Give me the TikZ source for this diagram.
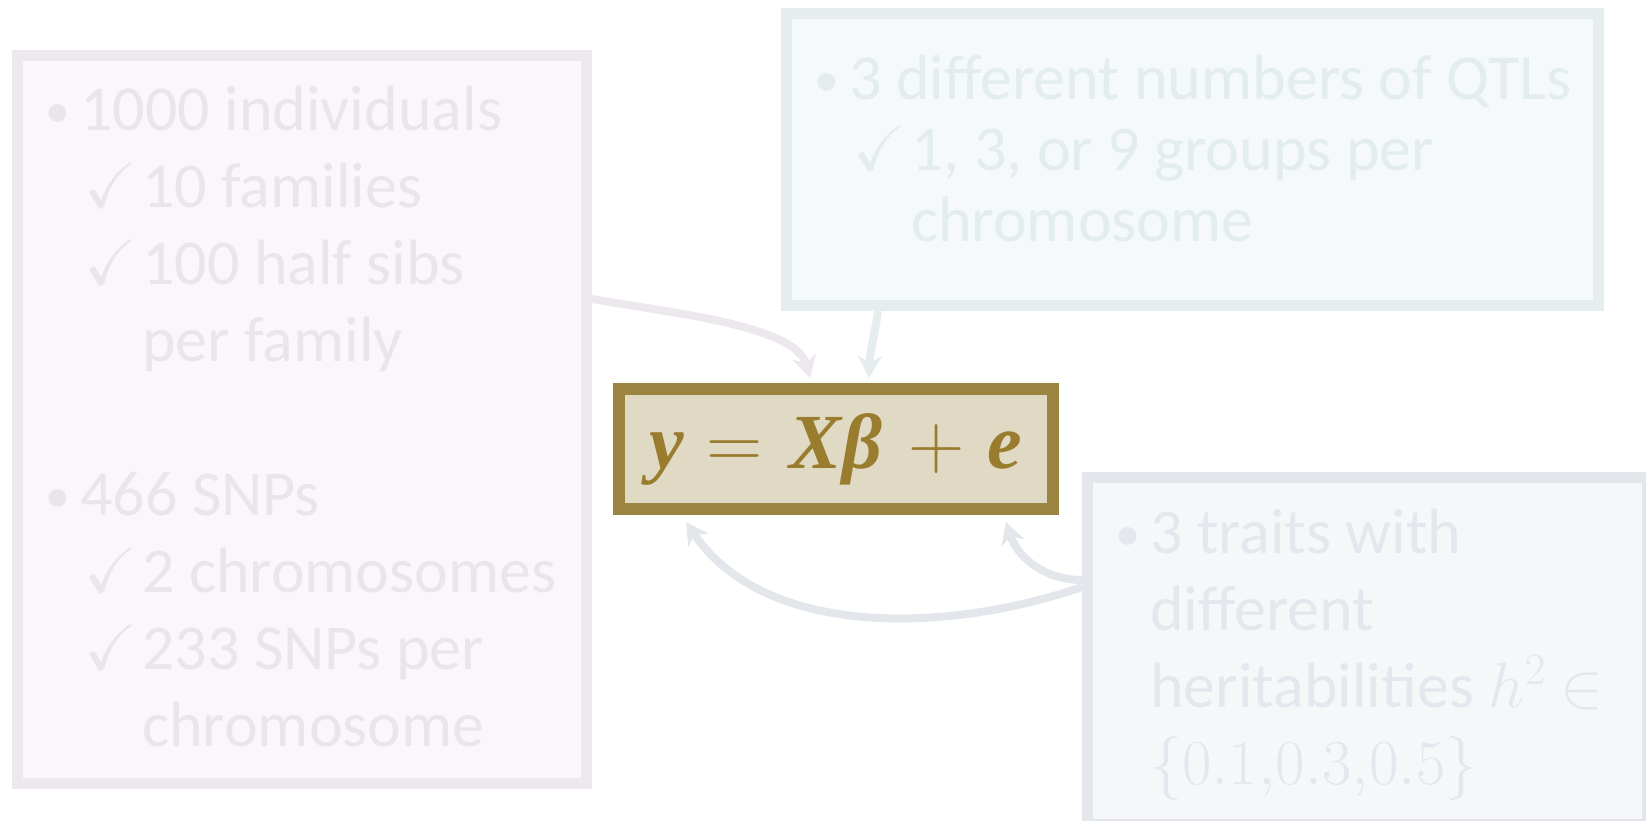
\RequirePackage{fix-cm}
\documentclass[tikz,border=0pt]{standalone}
\usepackage{amsmath,amssymb}
\usepackage{fontspec}
\setmainfont{Carlito}
\newfontfamily\eqfont{Liberation Serif}
\usetikzlibrary{arrows.meta,calc}
\definecolor{popline}{HTML}{EDE7EE}
\definecolor{popfill}{HTML}{F9F7FA}
\definecolor{poptext}{HTML}{EBE4EC}
\definecolor{qtlline}{HTML}{E5EDEE}
\definecolor{qtlfill}{HTML}{F5F9FA}
\definecolor{qtltext}{HTML}{E3ECEE}
\definecolor{hline}{HTML}{E3E7EC}
\definecolor{hfill}{HTML}{F6F7F9}
\definecolor{htext}{HTML}{E3E8EE}
\definecolor{modelline}{HTML}{9A8440}
\definecolor{modelfill}{HTML}{E0DAC4}
\definecolor{modeltext}{HTML}{9A7C2E}
\newcommand{\itm}[1]{\makebox[42pt][l]{\hspace*{7pt}\raisebox{3pt}{\fontsize{50}{50}\selectfont\textbullet}}#1}
\newcommand{\chk}[1]{\hspace*{46pt}\makebox[58pt][l]{$\checkmark$}#1}
\newcommand{\cnt}[2][104pt]{\hspace*{#1}#2}
\newcommand{\vb}[1]{{\eqfont\bfseries\itshape #1}}

\begin{document}
\begin{tikzpicture}[x=1pt,y=1pt, box/.style={draw,line width=11pt,inner sep=0pt}, txt/.style={anchor=base west,align=left,inner sep=0pt,font=\fontsize{64}{77}\selectfont}, link/.style={line width=8pt,-{Stealth[length=22pt,width=24pt,inset=7pt]}}]
\useasboundingbox (0,0) rectangle (1646,821);
\clip (0,0) rectangle (1646,821);
\node[box,draw=popline,fill=popfill,minimum width=569,minimum height=728] (pop) at (302,401.5) {};
\node[box,draw=qtlline,fill=qtlfill,minimum width=812,minimum height=292] (qtl) at (1192.5,661.5) {};
\node[box,draw=hline,fill=hfill,minimum width=560,minimum height=347] (herit) at (1367.5,170) {};
\node[box,draw=modelline,fill=modelfill,line width=12pt,minimum width=434,minimum height=120,text=modeltext,font=\fontsize{78}{84}\selectfont] (model) at (836,372) {\raisebox{-3pt}{\vb{y}${}={}$\kern6pt\vb{X\kern1ptβ}\kern8pt${}+{}$\kern6pt\vb{e}}};
\node[txt,text=poptext] (poptxt) at ($(pop.north west)+(26,-697)$) {\itm{1000 individuals}\\ \chk{10 families}\\ \chk{100 half sibs}\\ \cnt{per family}\\[77pt] \itm{466 SNPs}\\ \chk{2 chromosomes}\\ \chk{233 SNPs per}\\ \cnt{chromosome}};
\node[txt,text=qtltext] (qtltxt) at ($(qtl.north west)+(26,-234)$) {\itm{3 different numbers of QTLs}\\[-6pt] \chk{1, 3, or 9 groups per}\\[-6pt] \cnt{chromosome}};
\node[txt,text=htext] (herittxt) at ($(herit.north west)+(26,-313)$) {\itm{3 traits with}\\ \cnt[42pt]{different}\\ \cnt[42pt]{heritabilities $h^2$ $\in$}\\ \cnt[42pt]{$\{0.1{,}0.3{,}0.5\}$}};
\draw[link,popline] ($(pop.north east)+(0,-249)$) to[out=-10,in=105,out looseness=0.9,in looseness=0.6] ($(model.north)+(-26,5)$);
\draw[link,qtlline] ($(qtl.south west)+(97,0)$) to[out=-98,in=88] ($(model.north)+(33,5)$);
\draw[link,hline] ($(herit.north west)+(0,-108)$) to[out=180,in=-72] ($(model.south)+(170,-7)$);
\draw[link,hline] ($(herit.north west)+(0,-115)$) to[out=199,in=-56,looseness=0.9] ($(model.south)+(-150,-7)$);
\end{tikzpicture}
\end{document}
